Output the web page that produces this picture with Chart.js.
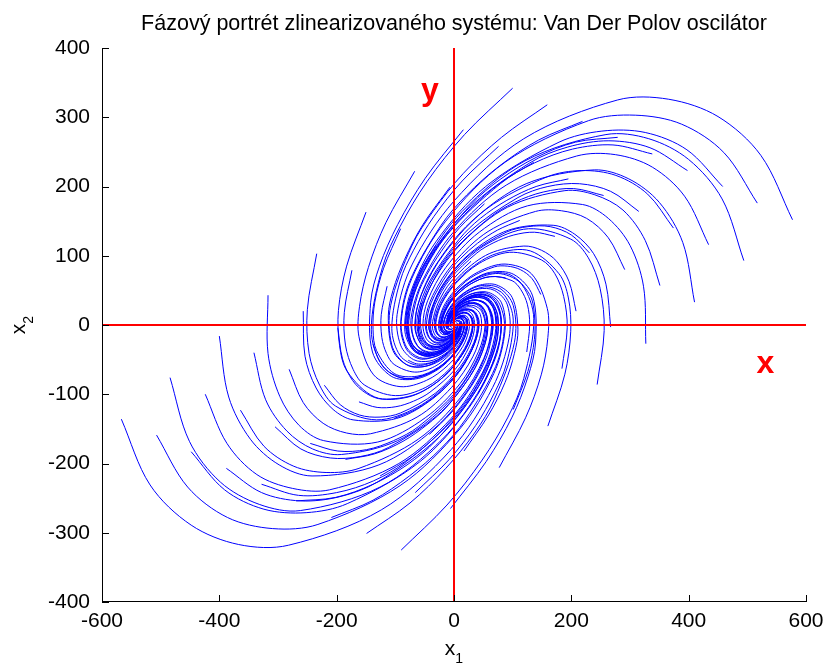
<!DOCTYPE html>
<html><head><meta charset="utf-8">
<script src="https://cdn.jsdelivr.net/npm/chart.js@4.4.1/dist/chart.umd.min.js"></script>
<style>html,body{margin:0;padding:0;background:#fff}canvas{display:block}</style>
</head><body>
<canvas id="c" width="824" height="666"></canvas>
<script>
const titleText = 'Fázový portrét zlinearizovaného systému: Van Der Polov oscilátor';
const xAxisName = ['x', '1'];
const yAxisName = ['x', '2'];
const xTicks = [-600, -400, -200, 0, 200, 400, 600];
const yTicks = [-400, -300, -200, -100, 0, 100, 200, 300, 400];
const xRange = [-600, 600];
const yRange = [-400, 400];
const refLineX = [[-600, 0], [600, 0]];
const refLineY = [[0, -400], [0, 400]];
const refLabelX = ['x', 531, -69];
const refLabelY = ['y', -41, 325];

// trajectories (x1, x2), set A
const trajectoriesA = [
[[3,-12],[-6,-21],[-18,-27],[-34,-28],[-47,-20],[-53,1],[-45,35],[-14,83],[43,134],[125,172],[219,174],[263,154],[300,115],[323,56],[327,-27]],
[[3,-9],[-4,-16],[-14,-22],[-26,-23],[-37,-18],[-43,-2],[-38,24],[-16,62],[28,104],[93,137],[169,144],[206,131],[238,103],[259,59],[267,-3]],
[[3,-6],[-2,-11],[-9,-16],[-18,-18],[-27,-15],[-33,-5],[-32,13],[-18,41],[13,74],[60,103],[119,114],[149,108],[175,92],[196,63],[208,20]],
[[3,-3],[1,-7],[-4,-10],[-10,-13],[-17,-13],[-23,-7],[-25,3],[-19,21],[-2,44],[28,68],[69,84],[91,85],[113,80],[133,67],[148,44]],
[[3,0],[3,-2],[1,-5],[-3,-8],[-7,-10],[-13,-10],[-19,-8],[-21,0],[-17,15],[-5,34],[19,54],[34,62],[51,68],[70,70],[88,68]],
[[3,3],[5,3],[6,1],[5,-3],[3,-7],[-3,-13],[-12,-19],[-23,-20],[-32,-15],[-37,-1],[-31,23],[-23,39],[-11,56],[7,74],[29,92]],
[[3,6],[7,7],[10,6],[13,3],[13,-5],[7,-15],[-6,-30],[-24,-41],[-48,-45],[-70,-35],[-82,-7],[-81,16],[-73,44],[-57,78],[-31,115]],
[[3,9],[9,12],[15,12],[21,8],[22,-2],[17,-18],[1,-40],[-26,-61],[-63,-74],[-102,-70],[-132,-37],[-138,-7],[-135,33],[-120,82],[-91,139]],
[[3,12],[11,16],[20,18],[28,13],[32,0],[27,-21],[7,-51],[-28,-82],[-78,-104],[-135,-104],[-182,-67],[-195,-30],[-197,21],[-183,85],[-150,163]],
[[6,-12],[-3,-23],[-18,-32],[-36,-36],[-54,-30],[-65,-9],[-62,28],[-33,84],[29,149],[123,204],[239,224],[298,211],[350,177],[390,119],[410,33]],
[[6,-9],[-1,-18],[-13,-26],[-28,-31],[-44,-28],[-55,-12],[-56,18],[-35,64],[14,119],[91,170],[189,194],[240,188],[288,166],[326,122],[351,57]],
[[6,-6],[1,-13],[-8,-21],[-21,-26],[-34,-25],[-45,-15],[-49,7],[-36,43],[-1,89],[58,135],[139,164],[183,165],[226,154],[263,126],[291,80]],
[[6,-3],[3,-9],[-3,-15],[-13,-21],[-25,-22],[-35,-17],[-43,-4],[-38,23],[-17,60],[26,101],[89,134],[126,142],[164,142],[200,130],[231,104]],
[[6,0],[5,-4],[2,-10],[-5,-15],[-15,-20],[-25,-20],[-36,-15],[-40,2],[-32,30],[-7,66],[39,104],[68,119],[102,130],[137,134],[172,128]],
[[6,3],[7,1],[6,-4],[3,-10],[-5,-17],[-15,-23],[-30,-25],[-42,-18],[-47,0],[-39,32],[-11,74],[11,96],[40,118],[74,137],[112,151]],
[[6,6],[9,5],[11,2],[10,-5],[5,-15],[-5,-25],[-23,-36],[-43,-39],[-62,-30],[-72,-3],[-62,43],[-46,73],[-22,106],[10,141],[52,175]],
[[6,9],[11,10],[16,7],[18,0],[15,-12],[5,-28],[-16,-47],[-45,-59],[-77,-59],[-104,-37],[-112,13],[-104,50],[-84,95],[-53,145],[-7,199]],
[[6,12],[13,14],[21,13],[26,5],[25,-9],[15,-31],[-10,-58],[-47,-80],[-92,-89],[-137,-72],[-162,-17],[-161,27],[-146,83],[-116,148],[-67,222]],
[[9,-12],[-1,-25],[-17,-37],[-39,-44],[-62,-40],[-78,-19],[-80,22],[-52,86],[14,164],[121,237],[259,275],[332,269],[400,239],[457,182],[494,93]],
[[9,-9],[2,-20],[-12,-31],[-31,-39],[-52,-38],[-68,-22],[-73,11],[-53,65],[-1,134],[89,202],[209,244],[275,246],[338,228],[393,186],[434,116]],
[[9,-6],[4,-15],[-7,-26],[-23,-34],[-42,-35],[-58,-25],[-67,0],[-55,45],[-16,104],[56,168],[159,214],[217,223],[276,216],[330,189],[374,140]],
[[9,-3],[6,-11],[-2,-20],[-15,-28],[-32,-32],[-48,-27],[-60,-10],[-57,24],[-31,75],[24,133],[109,184],[160,200],[214,204],[267,193],[315,164]],
[[9,0],[8,-6],[2,-14],[-8,-23],[-22,-30],[-38,-30],[-53,-21],[-59,4],[-46,45],[-9,99],[59,154],[103,177],[152,192],[204,197],[255,187]],
[[9,3],[10,-2],[7,-9],[0,-18],[-12,-27],[-28,-33],[-47,-32],[-60,-17],[-62,15],[-41,64],[9,124],[45,154],[90,180],[140,200],[195,211]],
[[9,6],[12,3],[12,-3],[8,-13],[-2,-25],[-18,-35],[-40,-43],[-62,-37],[-77,-14],[-74,30],[-42,94],[-12,131],[28,168],[77,204],[136,235]],
[[9,9],[14,8],[17,2],[16,-8],[8,-22],[-8,-38],[-34,-53],[-64,-58],[-92,-44],[-106,-5],[-92,63],[-69,108],[-34,157],[14,208],[76,258]],
[[9,12],[16,12],[22,8],[23,-3],[18,-19],[2,-41],[-27,-64],[-66,-78],[-107,-74],[-139,-39],[-142,33],[-127,85],[-96,145],[-49,212],[16,282]],
[[12,-12],[2,-27],[-16,-42],[-41,-52],[-69,-50],[-91,-29],[-97,15],[-71,88],[0,179],[119,269],[279,325],[366,326],[450,301],[523,245],[577,152]],
[[12,-9],[4,-22],[-11,-36],[-33,-46],[-59,-47],[-81,-32],[-90,5],[-72,67],[-15,149],[87,235],[229,295],[309,303],[388,290],[460,249],[517,176]],
[[12,-6],[6,-17],[-7,-30],[-26,-41],[-49,-45],[-71,-35],[-84,-6],[-74,47],[-31,120],[54,200],[179,264],[252,280],[326,278],[397,253],[458,200]],
[[12,-3],[8,-13],[-2,-25],[-18,-36],[-39,-42],[-61,-37],[-77,-17],[-76,26],[-46,90],[22,166],[129,234],[194,257],[264,266],[334,256],[398,223]],
[[12,0],[10,-8],[3,-19],[-10,-31],[-29,-40],[-51,-40],[-71,-28],[-77,6],[-61,60],[-11,131],[79,204],[137,234],[202,254],[271,260],[338,247]],
[[12,3],[12,-4],[8,-14],[-3,-26],[-19,-37],[-41,-43],[-64,-38],[-79,-15],[-76,31],[-43,97],[29,174],[80,211],[140,242],[207,264],[279,271]],
[[12,6],[14,1],[13,-8],[5,-21],[-9,-34],[-31,-45],[-58,-49],[-81,-35],[-91,1],[-76,62],[-22,144],[22,188],[78,230],[144,267],[219,294]],
[[12,9],[16,6],[18,-2],[13,-15],[0,-32],[-21,-48],[-51,-60],[-83,-56],[-106,-29],[-108,28],[-72,114],[-35,165],[16,219],[81,271],[159,318]],
[[12,12],[19,10],[22,3],[21,-10],[10,-29],[-11,-51],[-45,-71],[-84,-77],[-122,-59],[-141,-7],[-122,83],[-92,142],[-46,207],[18,275],[100,342]],
[[0,3],[2,5],[5,6],[8,5],[10,3],[10,-3],[5,-12],[-4,-22],[-18,-30],[-35,-33],[-51,-27],[-58,-18],[-61,-6],[-60,11],[-55,32]],
[[0,6],[4,9],[10,11],[15,10],[20,5],[20,-5],[12,-23],[-6,-42],[-33,-60],[-67,-68],[-102,-57],[-115,-41],[-123,-18],[-124,15],[-114,56]],
[[0,9],[6,14],[14,17],[23,16],[30,8],[30,-8],[18,-34],[-7,-63],[-48,-90],[-100,-102],[-152,-87],[-172,-64],[-185,-29],[-187,18],[-174,79]],
[[0,12],[8,19],[19,22],[31,21],[40,10],[40,-11],[25,-45],[-9,-83],[-63,-119],[-132,-137],[-202,-117],[-229,-87],[-247,-41],[-250,22],[-234,103]]
];

// trajectories (x1, x2), set B
const trajectoriesB = [
[[-3,12],[6,21],[18,27],[34,28],[47,20],[53,-1],[42,-38],[10,-85],[-49,-134],[-130,-169],[-222,-167],[-264,-145],[-297,-103],[-317,-41],[-317,43]],
[[-3,9],[4,16],[14,22],[26,23],[37,18],[43,2],[35,-27],[11,-65],[-34,-105],[-98,-135],[-172,-137],[-206,-122],[-235,-91],[-254,-45],[-257,20]],
[[-3,6],[2,11],[9,16],[18,18],[27,15],[33,5],[29,-16],[13,-44],[-18,-75],[-65,-100],[-122,-107],[-149,-99],[-173,-80],[-190,-49],[-198,-4]],
[[-3,3],[-1,7],[4,10],[10,13],[17,13],[23,7],[22,-6],[15,-24],[-3,-45],[-33,-66],[-71,-77],[-92,-76],[-111,-68],[-127,-52],[-138,-28]],
[[-3,0],[-3,2],[-1,5],[3,8],[7,10],[13,10],[16,5],[17,-3],[12,-16],[0,-31],[-21,-47],[-35,-53],[-49,-56],[-64,-56],[-78,-51]],
[[-3,-3],[-5,-3],[-6,-1],[-5,3],[-3,7],[3,13],[9,16],[18,18],[27,14],[32,3],[29,-17],[23,-30],[13,-44],[-1,-60],[-19,-75]],
[[-3,-6],[-7,-7],[-10,-6],[-13,-3],[-13,5],[-7,15],[3,27],[20,38],[42,44],[65,38],[79,14],[80,-7],[75,-32],[62,-63],[41,-99]],
[[-3,-9],[-9,-12],[-15,-12],[-21,-8],[-22,2],[-17,18],[-4,37],[22,59],[57,74],[97,72],[129,44],[137,16],[137,-21],[126,-67],[101,-122]],
[[-3,-12],[-11,-16],[-20,-18],[-28,-13],[-32,0],[-27,21],[-10,48],[24,79],[72,103],[130,107],[179,74],[195,39],[199,-9],[189,-71],[160,-146]],
[[-6,12],[3,23],[18,32],[36,36],[54,30],[65,9],[59,-31],[29,-87],[-34,-150],[-128,-202],[-242,-218],[-298,-202],[-347,-165],[-384,-104],[-400,-16]],
[[-6,9],[1,18],[13,26],[28,31],[44,28],[55,12],[53,-21],[30,-66],[-19,-120],[-96,-167],[-192,-187],[-241,-179],[-285,-153],[-321,-108],[-341,-40]],
[[-6,6],[-1,13],[8,21],[21,26],[34,25],[45,15],[46,-10],[32,-46],[-4,-90],[-63,-133],[-142,-157],[-183,-156],[-223,-142],[-257,-112],[-281,-64]],
[[-6,3],[-3,9],[3,15],[13,21],[25,22],[35,17],[40,1],[34,-25],[11,-60],[-31,-98],[-91,-127],[-126,-133],[-161,-130],[-194,-115],[-221,-87]],
[[-6,0],[-5,4],[-2,10],[5,15],[15,20],[25,20],[33,12],[35,-5],[26,-31],[2,-64],[-41,-97],[-69,-110],[-99,-118],[-131,-119],[-162,-111]],
[[-6,-3],[-7,-1],[-6,4],[-3,10],[5,17],[15,23],[27,22],[37,16],[42,-1],[34,-29],[9,-67],[-11,-87],[-37,-106],[-68,-123],[-102,-135]],
[[-6,-6],[-9,-5],[-11,-2],[-10,5],[-5,15],[5,25],[20,33],[39,36],[57,29],[67,5],[59,-37],[46,-64],[25,-94],[-5,-127],[-42,-158]],
[[-6,-9],[-11,-10],[-16,-7],[-18,0],[-15,12],[-5,28],[13,44],[41,57],[72,58],[99,40],[109,-6],[103,-41],[87,-83],[59,-130],[17,-182]],
[[-6,-12],[-13,-14],[-21,-13],[-26,-5],[-25,9],[-15,31],[7,55],[42,77],[87,88],[132,74],[159,24],[160,-18],[149,-71],[122,-134],[77,-206]],
[[-9,12],[1,25],[17,37],[39,44],[62,40],[78,19],[77,-25],[47,-89],[-20,-165],[-126,-234],[-262,-268],[-332,-259],[-398,-227],[-451,-168],[-484,-76]],
[[-9,9],[-2,20],[12,31],[31,39],[52,38],[68,22],[70,-14],[49,-68],[-5,-135],[-94,-200],[-212,-238],[-275,-236],[-336,-216],[-387,-171],[-424,-100]],
[[-9,6],[-4,15],[7,26],[23,34],[42,35],[58,25],[64,-3],[51,-48],[11,-105],[-61,-165],[-162,-207],[-218,-213],[-273,-204],[-324,-175],[-364,-123]],
[[-9,3],[-6,11],[2,20],[15,28],[32,32],[48,27],[57,7],[53,-27],[26,-76],[-29,-131],[-112,-177],[-160,-190],[-211,-192],[-261,-179],[-305,-147]],
[[-9,0],[-8,6],[-2,14],[8,23],[22,30],[38,30],[50,18],[54,-6],[41,-46],[4,-96],[-61,-147],[-103,-167],[-149,-180],[-198,-182],[-245,-171]],
[[-9,-3],[-10,2],[-7,9],[0,18],[12,27],[28,33],[44,29],[56,14],[56,-16],[36,-62],[-11,-117],[-46,-144],[-87,-168],[-135,-186],[-185,-194]],
[[-9,-6],[-12,-3],[-12,3],[-8,13],[2,25],[18,35],[37,40],[58,35],[71,14],[69,-27],[39,-87],[11,-121],[-25,-156],[-71,-190],[-126,-218]],
[[-9,-9],[-14,-8],[-17,-2],[-16,8],[-8,22],[8,38],[31,50],[59,55],[86,43],[101,7],[89,-57],[69,-98],[37,-145],[-8,-194],[-66,-242]],
[[-9,-12],[-16,-12],[-22,-8],[-23,3],[-18,19],[-2,41],[24,61],[61,76],[102,73],[134,42],[139,-26],[126,-75],[99,-133],[55,-197],[-6,-265]],
[[-12,12],[-2,27],[16,42],[41,52],[69,50],[91,29],[94,-18],[66,-90],[-5,-180],[-124,-267],[-282,-318],[-367,-317],[-448,-289],[-518,-231],[-567,-136]],
[[-12,9],[-4,22],[11,36],[33,46],[59,47],[81,32],[87,-8],[68,-70],[10,-150],[-92,-232],[-232,-288],[-309,-294],[-386,-278],[-454,-234],[-507,-159]],
[[-12,6],[-6,17],[7,30],[26,41],[49,45],[71,35],[81,3],[70,-49],[25,-120],[-59,-198],[-182,-258],[-252,-271],[-324,-266],[-391,-238],[-448,-183]],
[[-12,3],[-8,13],[2,25],[18,36],[39,42],[61,37],[74,14],[71,-29],[40,-91],[-27,-163],[-131,-227],[-195,-248],[-262,-254],[-328,-242],[-388,-207]],
[[-12,0],[-10,8],[-3,19],[10,31],[29,40],[51,40],[68,25],[73,-8],[56,-61],[6,-129],[-81,-197],[-137,-225],[-200,-242],[-265,-246],[-328,-230]],
[[-12,-3],[-12,4],[-8,14],[3,26],[19,37],[41,43],[61,35],[75,12],[71,-31],[38,-94],[-31,-167],[-80,-202],[-138,-230],[-202,-249],[-269,-254]],
[[-12,-6],[-14,-1],[-13,8],[-5,21],[9,34],[31,45],[55,46],[76,33],[86,-2],[71,-60],[19,-137],[-23,-179],[-76,-218],[-138,-253],[-209,-278]],
[[-12,-9],[-16,-6],[-18,2],[-13,15],[0,32],[21,48],[48,57],[78,53],[101,28],[103,-25],[69,-107],[35,-156],[-14,-207],[-75,-257],[-149,-301]],
[[-12,-12],[-19,-10],[-22,-3],[-21,10],[-10,29],[11,51],[42,68],[80,74],[116,58],[136,9],[119,-77],[92,-133],[48,-195],[-12,-260],[-90,-325]],
[[0,-3],[-2,-5],[-5,-6],[-8,-5],[-10,-3],[-10,3],[-8,9],[0,19],[12,29],[30,36],[49,34],[57,28],[63,18],[66,3],[65,-15]],
[[0,-6],[-4,-9],[-10,-11],[-15,-10],[-20,-5],[-20,5],[-15,20],[1,40],[28,59],[62,70],[99,64],[114,51],[125,30],[129,0],[124,-39]],
[[0,-9],[-6,-14],[-14,-17],[-23,-16],[-30,-8],[-30,8],[-21,31],[3,60],[43,89],[95,105],[149,94],[172,74],[187,41],[193,-4],[184,-63]],
[[0,-12],[-8,-19],[-19,-22],[-31,-21],[-40,-10],[-40,11],[-28,42],[5,81],[58,118],[127,139],[199,124],[229,97],[249,53],[256,-8],[244,-86]]
];

const FONT = '"Liberation Sans", Arial, Helvetica, sans-serif';
const toXY = arr => arr.map(p => ({x: p[0], y: p[1]}));

const datasets = [];
datasets.push({data: toXY(refLineX), showLine: true, borderColor: '#ff0000', borderWidth: 2, pointRadius: 0, tension: 0, order: 0});
datasets.push({data: toXY(refLineY), showLine: true, borderColor: '#ff0000', borderWidth: 2, pointRadius: 0, tension: 0, order: 0});
trajectoriesA.concat(trajectoriesB).forEach(tr => {
  datasets.push({data: toXY(tr), showLine: true, borderColor: '#0000ff', borderWidth: 1, pointRadius: 0, tension: 0.33, order: 1});
});

const decor = {
  id: 'decor',
  afterDraw(chart) {
    const ctx = chart.ctx, a = chart.chartArea;
    const xs = chart.scales.x, ys = chart.scales.y;
    ctx.save();
    // axes lines (left and bottom) with inward ticks
    ctx.strokeStyle = '#000'; ctx.lineWidth = 1;
    ctx.beginPath();
    ctx.moveTo(a.left + 0.5, a.top); ctx.lineTo(a.left + 0.5, a.bottom);
    ctx.moveTo(a.left, a.bottom - 0.5); ctx.lineTo(a.right, a.bottom - 0.5);
    xTicks.forEach(v => { const px = Math.round(xs.getPixelForValue(v)) + 0.5; ctx.moveTo(px, a.bottom); ctx.lineTo(px, a.bottom - 7); });
    yTicks.forEach(v => { const py = Math.round(ys.getPixelForValue(v)) + 0.5; ctx.moveTo(a.left, py); ctx.lineTo(a.left + 7, py); });
    ctx.stroke();
    // title
    ctx.fillStyle = '#000';
    ctx.font = '21.5px ' + FONT;
    ctx.textAlign = 'center'; ctx.textBaseline = 'alphabetic';
    ctx.fillText(titleText, (a.left + a.right) / 2, 30);
    // x axis name with subscript
    ctx.textAlign = 'left';
    ctx.font = '21px ' + FONT; const w1 = ctx.measureText(xAxisName[0]).width;
    ctx.font = '14px ' + FONT; const w2 = ctx.measureText(xAxisName[1]).width;
    const cx = (a.left + a.right) / 2;
    let sx = cx - (w1 + w2) / 2;
    ctx.font = '21px ' + FONT; ctx.fillText(xAxisName[0], sx, 655);
    ctx.font = '14px ' + FONT; ctx.fillText(xAxisName[1], sx + w1, 663);
    // y axis name rotated
    ctx.save();
    ctx.translate(25, (a.top + a.bottom) / 2);
    ctx.rotate(-Math.PI / 2);
    ctx.font = '21px ' + FONT; const v1 = ctx.measureText(yAxisName[0]).width;
    ctx.font = '14px ' + FONT; const v2 = ctx.measureText(yAxisName[1]).width;
    let sy = -(v1 + v2) / 2;
    ctx.font = '21px ' + FONT; ctx.fillText(yAxisName[0], sy, 0);
    ctx.font = '14px ' + FONT; ctx.fillText(yAxisName[1], sy + v1, 8);
    ctx.restore();
    // red axis letters
    ctx.fillStyle = '#ff0000';
    ctx.font = 'bold 32px ' + FONT;
    ctx.textAlign = 'center';
    ctx.fillText(refLabelX[0], xs.getPixelForValue(refLabelX[1]), ys.getPixelForValue(refLabelX[2]));
    ctx.fillText(refLabelY[0], xs.getPixelForValue(refLabelY[1]), ys.getPixelForValue(refLabelY[2]));
    ctx.restore();
  }
};

new Chart(document.getElementById('c'), {
  type: 'scatter',
  data: {datasets},
  options: {
    responsive: false, animation: false, devicePixelRatio: 1,
    layout: {padding: {left: 0, right: 18, top: 48, bottom: 0}},
    plugins: {legend: {display: false}, tooltip: {enabled: false}, title: {display: false}},
    scales: {
      x: {
        type: 'linear', min: xRange[0], max: xRange[1],
        afterBuildTicks: s => { s.ticks = xTicks.map(v => ({value: v})); },
        afterFit: s => { s.height = 64; s.paddingLeft = 0; s.paddingRight = 0; },
        grid: {display: false, drawTicks: false}, border: {display: false},
        ticks: {color: '#000', font: {family: FONT, size: 21}, padding: 7, autoSkip: false, maxRotation: 0, callback: v => String(v)}
      },
      y: {
        type: 'linear', min: yRange[0], max: yRange[1],
        afterBuildTicks: s => { s.ticks = yTicks.map(v => ({value: v})); },
        afterFit: s => { s.width = 102; s.paddingTop = 0; s.paddingBottom = 0; },
        grid: {display: false, drawTicks: false}, border: {display: false},
        ticks: {color: '#000', font: {family: FONT, size: 21}, padding: 12, autoSkip: false, callback: v => String(v)}
      }
    }
  },
  plugins: [decor]
});
</script>
</body></html>
